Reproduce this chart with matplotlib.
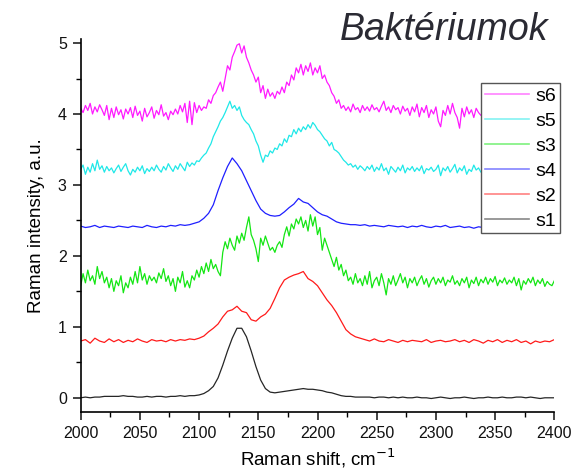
import numpy as np
import matplotlib
matplotlib.use("Agg")
import matplotlib.pyplot as plt
from matplotlib.lines import Line2D
from matplotlib.ticker import MultipleLocator

plt.rcParams["font.family"] = ["Liberation Sans", "DejaVu Sans"]

# Raman shift grids (cm^-1): noisy spectra sampled every 2, smoother ones every 4
shift_fine = np.arange(2000, 2401, 2)
shift_coarse = np.arange(2000, 2401, 4)

# Intensities (a.u.), already offset for stacking
s1 = [0.00, 0.01, 0.00, 0.01, 0.01, 0.02, 0.02, 0.02, 0.02, 0.03,
      0.02, 0.02, 0.01, 0.01, 0.02, 0.01, 0.02, 0.02, 0.01, 0.02,
      0.02, 0.03, 0.02, 0.03, 0.03, 0.04, 0.06, 0.10, 0.16, 0.28,
      0.46, 0.66, 0.84, 0.98, 0.98, 0.86, 0.66, 0.44, 0.25, 0.13,
      0.08, 0.07, 0.08, 0.09, 0.10, 0.11, 0.12, 0.13, 0.12, 0.12,
      0.11, 0.10, 0.08, 0.07, 0.05, 0.03, 0.02, 0.02, 0.01, 0.01,
      0.01, 0.01, 0.00, 0.01, 0.01, 0.00, 0.01, 0.00, 0.01, 0.00,
      0.00, 0.01, 0.00, 0.00, -0.01, 0.00, 0.01, 0.00, -0.01, 0.00,
      0.00, 0.01, 0.00, -0.01, 0.00, 0.00, 0.01, 0.00, 0.00, 0.01,
      0.00, 0.00, 0.01, 0.01, 0.00, 0.01, 0.00, -0.01, 0.00, 0.00,
      0.00]

s2 = [0.80, 0.82, 0.77, 0.84, 0.80, 0.78, 0.83, 0.79, 0.82, 0.78,
      0.81, 0.79, 0.83, 0.80, 0.78, 0.82, 0.80, 0.81, 0.79, 0.82,
      0.80, 0.82, 0.81, 0.83, 0.82, 0.84, 0.87, 0.93, 0.98, 1.04,
      1.14, 1.22, 1.24, 1.29, 1.22, 1.20, 1.10, 1.08, 1.14, 1.18,
      1.26, 1.40, 1.55, 1.66, 1.70, 1.73, 1.75, 1.78, 1.68, 1.64,
      1.58, 1.48, 1.38, 1.30, 1.20, 1.08, 0.96, 0.90, 0.86, 0.84,
      0.82, 0.80, 0.83, 0.80, 0.79, 0.82, 0.80, 0.78, 0.81, 0.79,
      0.81, 0.80, 0.79, 0.82, 0.78, 0.80, 0.81, 0.79, 0.80, 0.82,
      0.79, 0.81, 0.78, 0.82, 0.80, 0.77, 0.81, 0.79, 0.82, 0.78,
      0.81, 0.79, 0.82, 0.78, 0.80, 0.76, 0.80, 0.78, 0.80, 0.79,
      0.82]

s4 = [2.42, 2.40, 2.41, 2.43, 2.40, 2.42, 2.41, 2.40, 2.42, 2.41,
      2.40, 2.42, 2.41, 2.40, 2.43, 2.41, 2.40, 2.42, 2.41, 2.43,
      2.42, 2.44, 2.43, 2.44, 2.46, 2.48, 2.53, 2.60, 2.72, 2.92,
      3.10, 3.26, 3.38, 3.30, 3.20, 3.06, 2.92, 2.78, 2.66, 2.60,
      2.57, 2.56, 2.57, 2.62, 2.68, 2.73, 2.81, 2.76, 2.74, 2.68,
      2.62, 2.58, 2.56, 2.52, 2.48, 2.46, 2.45, 2.44, 2.44, 2.43,
      2.44, 2.42, 2.43, 2.42, 2.41, 2.43, 2.42, 2.41, 2.42, 2.40,
      2.42, 2.41, 2.43, 2.41, 2.40, 2.42, 2.41, 2.43, 2.40, 2.41,
      2.42, 2.40, 2.41, 2.39, 2.41, 2.40, 2.39, 2.41, 2.40, 2.40,
      2.41, 2.40, 2.39, 2.41, 2.40, 2.39, 2.40, 2.41, 2.40, 2.40,
      2.40]

s3 = [1.58, 1.75, 1.62, 1.80, 1.65, 1.72, 1.60, 1.85, 1.68, 1.78,
      1.62, 1.70, 1.55, 1.68, 1.50, 1.65, 1.58, 1.72, 1.48, 1.62,
      1.55, 1.70, 1.60, 1.78, 1.62, 1.85, 1.66, 1.75, 1.60, 1.72,
      1.65, 1.70, 1.62, 1.76, 1.68, 1.82, 1.64, 1.72, 1.58, 1.68,
      1.50, 1.70, 1.62, 1.78, 1.56, 1.65, 1.55, 1.72, 1.66, 1.80,
      1.70, 1.85, 1.75, 1.90, 1.78, 1.95, 1.82, 1.88, 1.78, 1.72,
      2.05, 2.20, 2.10, 2.25, 2.15, 2.08, 2.28, 2.18, 2.32, 2.22,
      2.40, 2.55, 2.30, 2.22, 2.10, 1.92, 2.25, 2.15, 2.28, 2.18,
      2.08, 2.12, 2.05, 2.15, 2.20, 2.12, 2.30, 2.41, 2.28, 2.45,
      2.38, 2.52, 2.45, 2.55, 2.40, 2.50, 2.35, 2.58, 2.42, 2.55,
      2.30, 2.40, 2.08, 2.25, 2.15, 2.05, 1.95, 1.85, 1.98, 1.80,
      1.88, 1.72, 1.80, 1.65, 1.70, 1.60, 1.75, 1.62, 1.68, 1.58,
      1.72, 1.60, 1.78, 1.55, 1.65, 1.70, 1.58, 1.75, 1.62, 1.45,
      1.68, 1.60, 1.72, 1.58, 1.66, 1.75, 1.62, 1.70, 1.55, 1.68,
      1.62, 1.70, 1.58, 1.66, 1.72, 1.60, 1.68, 1.56, 1.65, 1.70,
      1.60, 1.68, 1.62, 1.70, 1.58, 1.66, 1.63, 1.72, 1.60, 1.65,
      1.58, 1.68, 1.62, 1.70, 1.55, 1.66, 1.61, 1.70, 1.58, 1.67,
      1.62, 1.70, 1.60, 1.68, 1.63, 1.71, 1.58, 1.66, 1.62, 1.69,
      1.60, 1.66, 1.62, 1.70, 1.58, 1.68, 1.52, 1.65, 1.60, 1.68,
      1.62, 1.70, 1.58, 1.66, 1.61, 1.68, 1.57, 1.64, 1.60, 1.58,
      1.65]

s5 = [3.22, 3.28, 3.15, 3.25, 3.18, 3.30, 3.20, 3.35, 3.22, 3.27,
      3.18, 3.26, 3.20, 3.24, 3.17, 3.23, 3.28, 3.19, 3.25, 3.30,
      3.20, 3.14, 3.22, 3.18, 3.25, 3.20, 3.27, 3.16, 3.23, 3.19,
      3.25, 3.20, 3.28, 3.22, 3.18, 3.26, 3.21, 3.30, 3.24, 3.19,
      3.27, 3.22, 3.30, 3.25, 3.20, 3.32, 3.26, 3.31, 3.28, 3.34,
      3.33, 3.38, 3.42, 3.45, 3.52, 3.58, 3.68, 3.75, 3.82, 3.90,
      3.95, 4.02, 4.10, 4.18, 4.08, 4.12, 4.05, 4.10, 3.98, 3.92,
      3.88, 3.85, 3.78, 3.72, 3.62, 3.55, 3.42, 3.32, 3.42, 3.40,
      3.48, 3.45, 3.52, 3.50, 3.58, 3.55, 3.65, 3.60, 3.70, 3.68,
      3.78, 3.72, 3.80, 3.75, 3.82, 3.78, 3.85, 3.80, 3.88, 3.84,
      3.78, 3.75, 3.70, 3.65, 3.62, 3.55, 3.60, 3.50, 3.48, 3.45,
      3.40, 3.35, 3.32, 3.28, 3.30, 3.25, 3.28, 3.22, 3.27, 3.24,
      3.20, 3.26, 3.22, 3.28, 3.19, 3.25, 3.21, 3.30, 3.20, 3.24,
      3.15, 3.26, 3.22, 3.18, 3.25, 3.20, 3.28, 3.17, 3.24, 3.21,
      3.26, 3.19, 3.24, 3.20, 3.27, 3.16, 3.23, 3.21, 3.25, 3.19,
      3.22, 3.28, 3.13, 3.24, 3.20, 3.26, 3.18, 3.23, 3.29, 3.17,
      3.24, 3.20, 3.27, 3.15, 3.22, 3.19, 3.28, 3.21, 3.24, 3.18,
      3.22, 3.19, 3.24, 3.20, 3.23, 3.18, 3.25, 3.21, 3.22, 3.20,
      3.23, 3.19, 3.24, 3.21, 3.22, 3.18, 3.25, 3.20, 3.23, 3.21,
      3.22, 3.20, 3.24, 3.19, 3.23, 3.21, 3.22, 3.20, 3.24, 3.21,
      3.22]

s6 = [4.08, 4.02, 4.12, 4.05, 4.15, 4.00, 4.10, 4.03, 4.13, 4.06,
      3.98, 4.12, 3.92, 4.08, 3.95, 4.10, 3.99, 4.06, 3.93, 4.07,
      4.00, 4.09, 3.95, 4.11, 3.98, 4.04, 3.90, 4.08, 3.96, 4.02,
      4.10, 3.94, 4.05, 3.99, 4.13, 3.97, 4.02, 3.92, 4.04, 3.99,
      4.07, 4.00, 4.12, 4.03, 4.15, 3.88, 4.18, 3.85, 4.16, 4.02,
      4.12, 4.05, 4.10, 4.08, 4.20, 4.15, 4.26, 4.30, 4.38, 4.45,
      4.32, 4.50, 4.68, 4.62, 4.80, 4.88, 4.97, 4.99, 4.86, 4.96,
      4.80, 4.72, 4.62, 4.55, 4.45, 4.52, 4.30, 4.40, 4.22, 4.35,
      4.25, 4.30, 4.22, 4.32, 4.28, 4.38, 4.30, 4.45, 4.40, 4.55,
      4.48, 4.65, 4.58, 4.70, 4.55, 4.68, 4.60, 4.72, 4.55, 4.65,
      4.58, 4.68, 4.50, 4.55, 4.45, 4.40, 4.30, 4.25, 4.15, 4.20,
      4.08, 4.12, 4.05, 4.10, 4.03, 4.14, 4.06, 4.09, 4.02, 4.12,
      4.05, 4.10, 4.04, 4.13, 4.06, 4.09, 4.03, 4.11, 4.18, 4.05,
      4.10, 4.02, 4.12, 4.06, 4.09, 4.00, 4.11, 4.04, 4.08, 3.98,
      4.10, 4.03, 4.14, 3.96, 4.09, 4.02, 4.12, 3.95, 4.06, 4.00,
      4.10, 3.90, 3.82, 4.05, 3.98, 4.12, 4.00, 4.15, 4.02, 3.95,
      3.80, 4.08, 3.96, 4.10, 4.00, 4.06, 3.95, 4.08, 4.02, 3.98,
      4.05, 4.00, 4.08, 3.97, 4.05, 4.01, 4.07, 3.98, 4.04, 4.00,
      4.06, 3.99, 4.05, 4.01, 4.08, 3.97, 4.04, 4.00, 4.06, 3.99,
      4.05, 4.01, 4.07, 3.98, 4.04, 4.00, 4.06, 3.99, 4.03, 4.01,
      4.02]

spectra = {
    "s1": (shift_coarse, s1, "#262626"),
    "s2": (shift_coarse, s2, "#ff1a1a"),
    "s4": (shift_coarse, s4, "#1f1fff"),
    "s3": (shift_fine, s3, "#14e614"),
    "s5": (shift_fine, s5, "#1fe8e8"),
    "s6": (shift_fine, s6, "#ff1aff"),
}
legend_order = ["s6", "s5", "s3", "s4", "s2", "s1"]

fig = plt.figure(figsize=(5.83, 4.73), dpi=100)
ax = fig.add_axes([0.1384, 0.129, 0.8124, 0.7875])

for name, (x, y, color) in spectra.items():
    ax.plot(x, y, color=color, lw=0.9)

ax.set_xlim(2000, 2400)
ax.set_ylim(-0.2, 5.05)
ax.xaxis.set_major_locator(MultipleLocator(50))
ax.xaxis.set_minor_locator(MultipleLocator(25))
ax.yaxis.set_major_locator(MultipleLocator(1))
ax.yaxis.set_minor_locator(MultipleLocator(0.5))
ax.tick_params(which="major", direction="out", length=6, width=1.1,
               labelsize=11.5, pad=4, colors="#111111")
ax.tick_params(which="minor", direction="out", length=3.5, width=1.0)
for side in ("top", "right"):
    ax.spines[side].set_visible(False)
for side in ("left", "bottom"):
    ax.spines[side].set_linewidth(1.2)

ax.set_xlabel("Raman shift, cm$^{-1}$", fontsize=13.5, labelpad=4)
ax.set_ylabel("Raman intensity, a.u.", fontsize=13.5, labelpad=9)

handles = [Line2D([], [], color=spectra[n][2], lw=1.2, alpha=0.55)
           for n in legend_order]
leg = ax.legend(handles, legend_order, loc="upper right",
                bbox_to_anchor=(0.9605, 0.8245),
                bbox_transform=fig.transFigure,
                fontsize=14, frameon=True, fancybox=False,
                framealpha=1, edgecolor="#555555",
                handlelength=2.3, handletextpad=0.3,
                labelspacing=0.38, borderpad=0.2, borderaxespad=0)
leg.get_frame().set_linewidth(1.0)

fig.text(0.940, 0.915, "Baktériumok", ha="right", va="baseline",
         fontsize=27, style="italic", color="#2a2a33")

fig.savefig("out.png", dpi=100, facecolor="white")
